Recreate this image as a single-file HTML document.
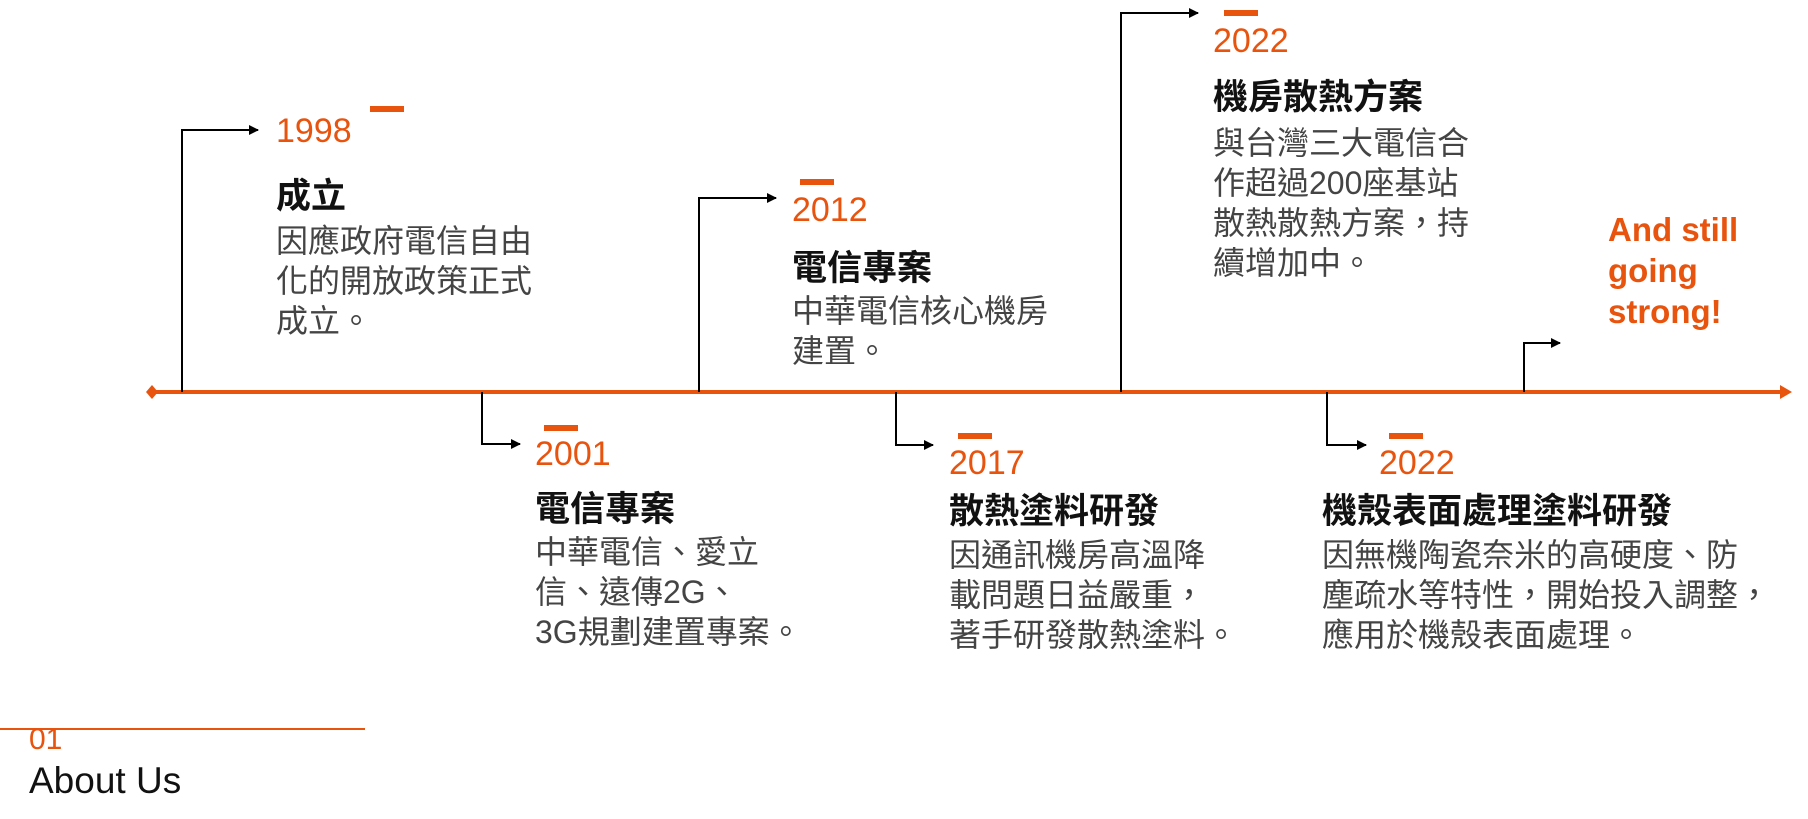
<!DOCTYPE html>
<html><head><meta charset="utf-8"><style>
body{margin:0;width:1808px;height:819px;background:#fff;position:relative;overflow:hidden;font-family:"Liberation Sans","Noto Sans CJK TC",sans-serif}
.t{position:absolute;white-space:nowrap}
.y{color:#e8530e;font-size:34px;line-height:40px}
.h{color:#111;font-weight:bold;font-size:35px;line-height:40px}
.b{color:#444;font-size:32px;line-height:40px}
.d{position:absolute;background:#e8530e;height:6px;width:34px}
.o{color:#e8530e;font-weight:bold;font-size:33px;line-height:41px}
</style></head><body>
<svg width="1808" height="819" style="position:absolute;left:0;top:0">
<defs><marker id="a" markerWidth="10" markerHeight="10" refX="9" refY="5" orient="auto" markerUnits="userSpaceOnUse"><path d="M0,0 L10,5 L0,10 z" fill="#000"/></marker></defs>
<line x1="152" y1="392" x2="1785" y2="392" stroke="#e8530e" stroke-width="4"/>
<path d="M146,392 L152,385 L158,392 L152,399 z" fill="#e8530e"/>
<path d="M1780,385 L1792,392 L1780,399 z" fill="#e8530e"/>
<g stroke="#000" stroke-width="2" fill="none" marker-end="url(#a)">
<path d="M182,392 V130 H258"/>
<path d="M482,392 V444 H520"/>
<path d="M699,392 V198 H776"/>
<path d="M896,392 V445 H933"/>
<path d="M1121,392 V13 H1198"/>
<path d="M1327,392 V445 H1366"/>
<path d="M1524,392 V343 H1560"/>
</g>
<line x1="0" y1="729" x2="365" y2="729" stroke="#e8530e" stroke-width="2"/>
</svg>
<div class="d" style="left:370px;top:106px"></div>
<div class="t y" style="left:276px;top:111px">1998</div>
<div class="t h" style="left:276px;top:177px">成立</div>
<div class="t b" style="left:276px;top:221px">因應政府電信自由<br>化的開放政策正式<br>成立。</div>

<div class="d" style="left:544px;top:425px"></div>
<div class="t y" style="left:535px;top:434px">2001</div>
<div class="t h" style="left:535px;top:490px">電信專案</div>
<div class="t b" style="left:535px;top:532px">中華電信、愛立<br>信、遠傳2G、<br>3G規劃建置專案。</div>

<div class="d" style="left:800px;top:179px"></div>
<div class="t y" style="left:792px;top:190px">2012</div>
<div class="t h" style="left:792px;top:249px">電信專案</div>
<div class="t b" style="left:792px;top:291px">中華電信核心機房<br>建置。</div>

<div class="d" style="left:1224px;top:10px"></div>
<div class="t y" style="left:1213px;top:21px">2022</div>
<div class="t h" style="left:1213px;top:78px">機房散熱方案</div>
<div class="t b" style="left:1213px;top:123px">與台灣三大電信合<br>作超過200座基站<br>散熱散熱方案，持<br>續增加中。</div>

<div class="d" style="left:958px;top:433px"></div>
<div class="t y" style="left:949px;top:443px">2017</div>
<div class="t h" style="left:949px;top:492px">散熱塗料研發</div>
<div class="t b" style="left:949px;top:535px">因通訊機房高溫降<br>載問題日益嚴重，<br>著手研發散熱塗料。</div>

<div class="d" style="left:1389px;top:433px"></div>
<div class="t y" style="left:1379px;top:443px">2022</div>
<div class="t h" style="left:1322px;top:492px">機殼表面處理塗料研發</div>
<div class="t b" style="left:1322px;top:535px">因無機陶瓷奈米的高硬度、防<br>塵疏水等特性，開始投入調整，<br>應用於機殼表面處理。</div>

<div class="t o" style="left:1608px;top:209px">And still<br>going<br>strong!</div>

<div class="t" style="left:29px;top:722px;color:#e8530e;font-size:30px;line-height:36px">01</div>
<div class="t" style="left:29px;top:760px;color:#111;font-size:37px;line-height:42px">About Us</div>
</body></html>
